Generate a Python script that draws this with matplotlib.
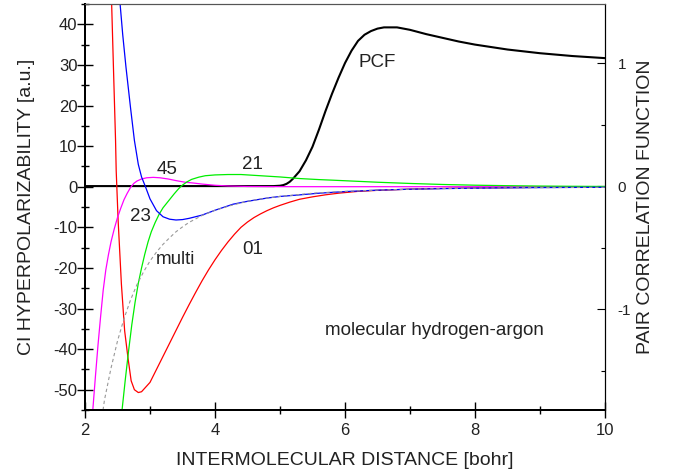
import numpy as np
import matplotlib
matplotlib.use('Agg')
import matplotlib.pyplot as plt
from matplotlib.ticker import MultipleLocator, FixedLocator

plt.rcParams['font.family'] = ['Liberation Sans', 'DejaVu Sans']
plt.rcParams['axes.unicode_minus'] = False

# values
# CI hyperpolarizability components (left axis, a.u.)
r01 = [2.40, 2.41, 2.44, 2.47, 2.48, 2.51, 2.56, 2.61, 2.66, 2.71, 2.76, 2.82, 2.87,
       3.00, 3.10, 3.20, 3.30, 3.40, 3.50, 3.60, 3.70, 3.80, 3.90, 4.00, 4.10, 4.20,
       4.30, 4.40, 4.50, 4.60, 4.70, 4.80, 4.90, 5.00, 5.15, 5.30, 5.50, 5.70, 5.90,
       6.20, 6.50, 7.0, 7.5, 8.0, 9.0, 10.0]
b01 = [50.6, 45.0, 28.0, 11.4, 3.9, -8.4, -24.0, -35.5, -42.0, -47.8, -50.0, -50.7, -50.5,
       -48.2, -45.0, -41.8, -38.6, -35.4, -32.2, -29.1, -26.1, -23.2, -20.5, -18.0, -15.7, -13.6,
       -11.7, -10.0, -8.7, -7.6, -6.7, -5.9, -5.2, -4.6, -3.8, -3.1, -2.5, -2.0, -1.6,
       -1.15, -0.9, -0.6, -0.42, -0.3, -0.15, -0.08]

r23 = [2.54, 2.58, 2.63, 2.70, 2.76, 2.82, 2.87, 2.93, 3.00, 3.10, 3.20, 3.30, 3.40,
       3.50, 3.60, 3.70, 3.80, 4.00, 4.28, 4.50, 4.80, 5.00, 5.31, 5.60, 6.00, 6.50,
       7.0, 7.5, 8.0, 8.5, 9.0, 9.5, 10.0]
b23 = [45.0, 37.5, 29.5, 19.5, 11.4, 5.5, 2.4, 0.0, -3.0, -5.9, -7.4, -8.0, -8.2,
       -8.1, -7.8, -7.4, -7.0, -5.8, -4.3, -3.6, -2.8, -2.4, -2.0, -1.6, -1.2, -0.85,
       -0.62, -0.47, -0.36, -0.28, -0.22, -0.18, -0.15]

r45 = [2.10, 2.12, 2.16, 2.20, 2.24, 2.28, 2.32, 2.36, 2.40, 2.45, 2.50, 2.55, 2.60,
       2.65, 2.70, 2.75, 2.80, 2.87, 2.95, 3.05, 3.15, 3.28, 3.40, 3.54, 3.67, 3.80,
       4.00, 4.20, 4.50, 5.00, 6.00, 10.0]
b45 = [-60.0, -55.0, -46.8, -39.0, -32.0, -25.5, -20.5, -16.8, -13.6, -10.4, -7.6, -5.3, -3.2,
       -1.6, -0.2, 0.8, 1.4, 1.9, 2.2, 2.3, 2.2, 1.9, 1.5, 1.1, 0.9, 0.65,
       0.35, 0.18, 0.06, 0.01, 0.0, 0.0]

r21 = [2.00, 2.005, 2.55, 2.57, 2.62, 2.67, 2.72, 2.77, 2.82, 2.87, 2.92, 2.97, 3.02,
       3.08, 3.14, 3.20, 3.30, 3.37, 3.44, 3.50, 3.57, 3.64, 3.75, 3.85, 4.00, 4.20, 4.40,
       4.60, 4.80, 5.00, 5.31, 5.60, 5.82, 6.23, 6.50, 7.0, 7.5, 8.0, 8.5, 9.0, 9.5, 10.0]
b21 = [-51.0, -300.0, -58.0, -55.0, -47.5, -40.5, -34.0, -28.5, -23.8, -20.0, -16.6, -13.6, -11.1,
       -8.8, -6.8, -5.2, -3.2, -1.8, -0.5, 0.4, 1.2, 1.8, 2.35, 2.7, 2.9, 3.0, 3.0,
       2.8, 2.6, 2.4, 2.0, 1.75, 1.6, 1.3, 1.1, 0.8, 0.55, 0.37, 0.25, 0.16, 0.1, 0.06]

r_multi = [2.25, 2.30, 2.40, 2.50, 2.60, 2.70, 2.80, 2.90, 3.00, 3.10, 3.20, 3.30, 3.40,
           3.50, 3.60, 3.80, 4.00, 4.25, 4.50, 4.75, 5.00, 5.50, 6.00, 6.50, 7.0, 7.5,
           8.0, 8.5, 9.0, 9.5, 10.0]
b_multi = [-58.0, -52.5, -44.7, -38.0, -32.5, -27.9, -24.1, -21.0, -18.3, -16.1, -14.2, -12.6, -11.1,
           -9.9, -8.8, -7.1, -5.8, -4.6, -3.6, -2.9, -2.4, -1.6, -1.15, -0.83, -0.62, -0.47,
           -0.36, -0.28, -0.23, -0.18, -0.15]

# pair correlation function (right axis)
r_pcf = [2.0, 4.9, 5.0, 5.05, 5.1, 5.15, 5.2, 5.3, 5.4, 5.5, 5.6, 5.7, 5.8, 5.9, 6.0, 6.1, 6.2,
         6.3, 6.4, 6.5, 6.6, 6.8, 7.0, 7.25, 7.5, 7.75, 8.0, 8.5, 9.0, 9.5, 10.0]
pcf = [0.0, 0.0, 0.003, 0.008, 0.018, 0.035, 0.06, 0.12, 0.21, 0.32, 0.46, 0.61, 0.75, 0.88, 1.0,
       1.10, 1.18, 1.23, 1.26, 1.28, 1.29, 1.29, 1.27, 1.235, 1.205, 1.175, 1.15, 1.11, 1.08,
       1.057, 1.04]

txt = '#222222'

fig = plt.figure(figsize=(6.79, 4.76), dpi=100)
ax = fig.add_axes([85/679, 1 - 410/476, 520/679, 406/476])
ax2 = ax.twinx()

# PCF behind the hyperpolarizability curves
ax.set_zorder(ax2.get_zorder() + 1)
ax.patch.set_visible(False)

ax2.plot(r_pcf, pcf, color='black', lw=1.5)

ax.plot(r01, b01, color='#ff0000', lw=0.9)
ax.plot(r45, b45, color='#ff00ff', lw=0.9)
ax.plot(r21, b21, color='#00ee00', lw=0.9)
ax.plot(r23, b23, color='#0000ff', lw=0.9)
ax.plot(r_multi, b_multi, color='#999999', lw=0.8, ls=(0, (3, 2.5)))

ax.set_xlim(2, 10)
ax.set_ylim(-55, 45)
ax2.set_ylim(-1.82, 1.48)

ax.xaxis.set_major_locator(MultipleLocator(2))
ax.xaxis.set_minor_locator(MultipleLocator(1))
ax.yaxis.set_major_locator(MultipleLocator(10))
ax.yaxis.set_minor_locator(MultipleLocator(5))
ax2.yaxis.set_major_locator(FixedLocator([-1, 0, 1]))
ax2.yaxis.set_minor_locator(FixedLocator([-1.5, -0.5, 0.5]))

ax.tick_params(which='major', direction='inout', length=11, width=1.0, colors='black',
               labelcolor=txt, labelsize=12, top=False, right=False)
ax.tick_params(which='minor', direction='inout', length=6, width=1.0, top=False, right=False)
ax.tick_params(axis='y', which='major', pad=0)
ax.tick_params(axis='x', which='major', pad=4)
ax2.tick_params(which='major', direction='in', length=6, width=0.8, labelsize=11,
                labelcolor=txt, pad=9)
ax2.tick_params(which='minor', direction='in', length=3, width=0.8)

for a in (ax, ax2):
    a.spines['left'].set_linewidth(1.4)
    a.spines['bottom'].set_linewidth(1.4)
    a.spines['top'].set_linewidth(0.8)
    a.spines['top'].set_color('#555555')
    a.spines['right'].set_linewidth(0.8)

ax.set_xlabel('INTERMOLECULAR DISTANCE [bohr]', fontsize=14, color=txt, va='center')
ax.xaxis.set_label_coords(0.5, -0.125)
ax.set_ylabel('CI HYPERPOLARIZABILITY [a.u.]', fontsize=14, color=txt, va='center')
ax.yaxis.set_label_coords(-58/520, 0.5)
ax2.set_ylabel('PAIR CORRELATION FUNCTION', fontsize=14, color=txt, va='center')
ax2.yaxis.set_label_coords(1 + 41/520, 0.5)

labels = [('45', 3.26, 3.1), ('21', 4.57, 4.35), ('23', 2.86, -8.4),
          ('multi', 3.39, -19.0), ('01', 4.58, -16.6), ('PCF', 6.49, 29.4),
          ('molecular hydrogen-argon', 7.38, -36.5)]
for s, x, y in labels:
    ax.text(x, y, s, fontsize=13.5, color=txt, ha='center', va='baseline')

fig.savefig('out.png', dpi=100)
